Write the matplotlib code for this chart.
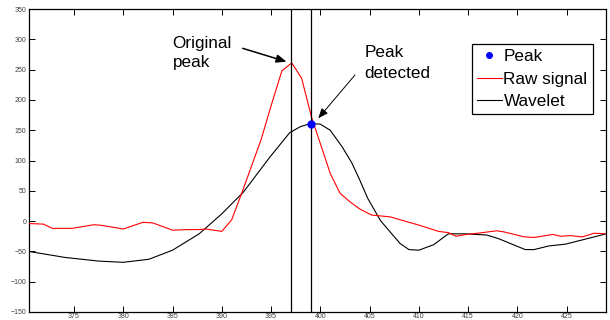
import matplotlib
matplotlib.use("Agg")
import matplotlib.pyplot as plt

plt.rcParams['font.family'] = ['Liberation Sans', 'DejaVu Sans']

# Raw signal (red)
raw_x = [370.4, 371.9, 372.8, 374.8, 377.0, 377.8, 380.0, 382.0, 383.0, 385.0,
         386.5, 387.7, 388.4, 390.0, 391.0, 392.0, 393.0, 394.0, 395.0, 396.1,
         397.1, 398.1, 399.1, 400.0, 401.0, 402.0, 403.0, 404.0, 405.2, 407.1,
         409.0, 410.1, 412.0, 413.0, 413.8, 414.8, 416.0, 417.9, 418.7, 420.7,
         421.7, 423.6, 424.4, 425.4, 426.6, 427.8, 429.0]
raw_y = [-4, -5, -12, -12, -6, -7, -13, -2, -3, -15,
         -14, -14, -13, -17, 2, 45, 90, 135, 190, 248,
         261, 236, 172, 128, 79, 46, 32, 20, 10, 7,
         -2, -7, -17, -19, -25, -22, -20, -16, -18, -26,
         -27, -22, -25, -24, -26, -20, -21]

# Wavelet (black)
wav_x = [370.4, 374.1, 377.5, 380.0, 382.6, 385.0, 387.7, 390.0, 392.2, 394.9,
         396.0, 396.9, 398.0, 399.0, 400.0, 401.0, 402.2, 403.2, 404.0, 404.8,
         406.1, 407.2, 408.1, 409.0, 410.0, 411.5, 413.0, 414.7, 416.9, 418.1,
         420.8, 421.7, 423.2, 424.9, 426.6, 429.0]
wav_y = [-50, -60, -66, -68, -63, -48, -21, 12, 48, 106,
         128, 146, 156, 161, 160, 150, 123, 96, 68, 38,
         1, -20, -37, -47, -48, -39, -21, -21, -23, -29,
         -47, -47, -41, -38, -31, -21]

peak_x = [399.1]
peak_y = [161]
original_peak_x = 397.0

xticks = [375, 380, 385, 390, 395, 400, 405, 410, 415, 420, 425]
yticks = [-150, -100, -50, 0, 50, 100, 150, 200, 250, 300, 350]

fig = plt.figure(figsize=(6.1, 3.2), dpi=100)
ax = fig.add_axes([28.5/610, 1-312/320, (606-28.5)/610, (312-9)/320])

lw = 0.8
ax.plot(wav_x, wav_y, color='black', lw=lw, label='Wavelet', zorder=2)
ax.plot(raw_x, raw_y, color='#ff0000', lw=lw, label='Raw signal', zorder=3)
ax.axvline(original_peak_x, color='black', lw=0.9, zorder=4)
ax.axvline(peak_x[0], color='black', lw=0.9, zorder=4)
ax.plot(peak_x, peak_y, 'o', color='#0000ff', ms=5, label='Peak', zorder=5)

ax.set_xlim(370.38, 429.0)
ax.set_ylim(-150, 350)
ax.set_xticks(xticks)
ax.set_yticks(yticks)
ax.tick_params(axis='both', direction='in', length=4.3, width=0.7,
               labelsize=5, labelcolor='#404040', top=True, right=True)
ax.tick_params(axis='x', pad=1.0)
ax.tick_params(axis='y', pad=1.5)
for s in ax.spines.values():
    s.set_linewidth(0.9)

fs = 12.3
ax.text(385.0, 285.6, 'Original', fontsize=fs, ha='left', va='baseline')
ax.text(385.0, 254.8, 'peak', fontsize=fs, ha='left', va='baseline')
ax.text(404.5, 271.3, 'Peak', fontsize=fs, ha='left', va='baseline')
ax.text(404.5, 236.6, 'detected', fontsize=fs, ha='left', va='baseline')

ax.annotate('', xy=(396.58, 263.0), xytext=(392.12, 285.1),
            arrowprops=dict(arrowstyle='-|>,head_length=0.5,head_width=0.2',
                            color='black', lw=1.1, mutation_scale=12,
                            shrinkA=0, shrinkB=0))
ax.annotate('', xy=(399.79, 169.6), xytext=(403.52, 241.1),
            arrowprops=dict(arrowstyle='-|>,head_length=0.5,head_width=0.2',
                            color='black', lw=0.7, mutation_scale=12,
                            shrinkA=0, shrinkB=0))

h, l = ax.get_legend_handles_labels()
order = [2, 1, 0]
leg = ax.legend([h[i] for i in order], [l[i] for i in order],
                loc='upper right', bbox_to_anchor=(0.977, 0.8835),
                borderaxespad=0, fancybox=False, framealpha=1,
                edgecolor='black', fontsize=fs, handlelength=1.45,
                handletextpad=0.1, labelspacing=0.42, borderpad=0.3,
                markerscale=0.8)
leg.get_frame().set_linewidth(0.9)

fig.savefig('out.png', dpi=100)
